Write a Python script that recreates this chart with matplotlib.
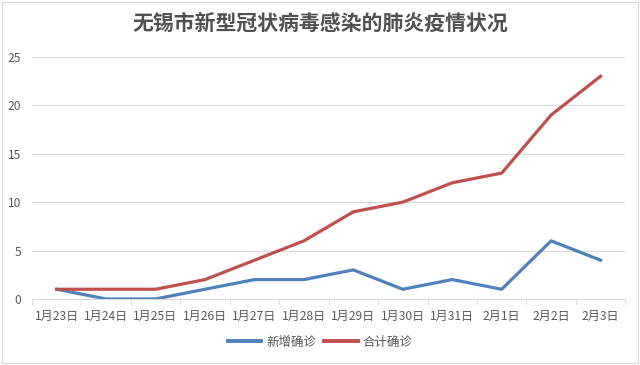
import matplotlib
matplotlib.use("Agg")
import matplotlib.pyplot as plt
from matplotlib.patches import Rectangle

plt.rcParams['font.family'] = ['Noto Sans CJK SC', 'DejaVu Sans']

dates = ["1月23日", "1月24日", "1月25日", "1月26日", "1月27日", "1月28日",
         "1月29日", "1月30日", "1月31日", "2月1日", "2月2日", "2月3日"]
new_cases = [1, 0, 0, 1, 2, 2, 3, 1, 2, 1, 6, 4]
total_cases = [1, 1, 1, 2, 4, 6, 9, 10, 12, 13, 19, 23]

txt = "#595959"
fig = plt.figure(figsize=(6.4, 3.65), dpi=100)
ax = fig.add_axes([0.05, 0.181, 0.927, 0.663])

x = list(range(len(dates)))
ax.plot(x, new_cases, color="#4f81bd", lw=2.3, label="新增确诊")
ax.plot(x, total_cases, color="#c0504d", lw=2.3, label="合计确诊")

ax.set_xlim(-0.5, len(dates) - 0.5)
ax.set_ylim(0, 25)
ax.set_yticks(range(0, 26, 5))
ax.set_xticks(x)
ax.set_xticklabels(dates)
ax.set_xticks([i - 0.5 for i in range(len(dates) + 1)], minor=True)
ax.tick_params(axis="x", which="major", length=0, labelsize=8.7, colors=txt, pad=8)
ax.tick_params(axis="x", which="minor", length=4, color="#d9d9d9")
ax.tick_params(axis="y", length=0, labelsize=8.7, colors=txt, pad=8)
ax.grid(axis="y", color="#d9d9d9", lw=0.8)
ax.set_axisbelow(True)
for s in ["top", "right", "left"]:
    ax.spines[s].set_visible(False)
ax.spines["bottom"].set_color("#d9d9d9")

fig.text(0.5, 0.937, "无锡市新型冠状病毒感染的肺炎疫情状况", ha="center", va="center",
         fontsize=15, fontweight="heavy", color="#505050")
leg = fig.legend(loc="center", bbox_to_anchor=(0.5, 0.062), ncol=2, frameon=False,
                 fontsize=9, labelcolor=txt, handlelength=2.7, columnspacing=0.6,
                 handletextpad=0.4)
for line in leg.get_lines():
    line.set_linewidth(2.8)

fig.patches.append(Rectangle((0.003, 0.005), 0.994, 0.99, transform=fig.transFigure,
                             fill=False, edgecolor="#d9d9d9", lw=0.8))

fig.savefig("out.png", dpi=100, facecolor="white")
